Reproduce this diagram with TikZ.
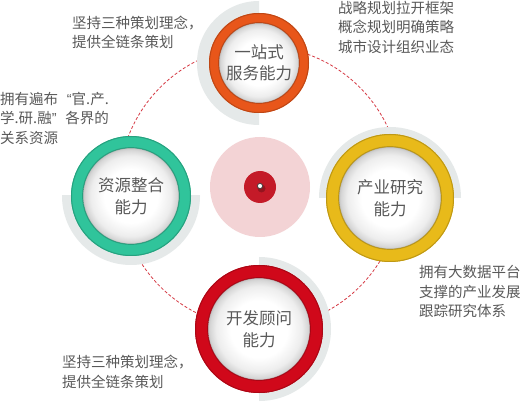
\documentclass[tikz,border=0pt]{standalone}
\usepackage{fontspec}
\newfontfamily\cjk{Noto Sans CJK SC}
\newfontfamily\latinq{Liberation Sans}
\definecolor{txt}{HTML}{595959}
\definecolor{ringorange}{HTML}{E8561A}
\definecolor{ringgreen}{HTML}{30C49B}
\definecolor{ringyellow}{HTML}{E8BA1A}
\definecolor{ringred}{HTML}{D0081A}
\definecolor{shadowgrey}{HTML}{E5E9E9}
\definecolor{dashred}{HTML}{D63A44}
\definecolor{pinkdisk}{HTML}{F3D3D5}
\definecolor{coredisk}{HTML}{C41A28}
\pgfdeclareradialshading{discshade}{\pgfpoint{0bp}{0bp}}{color(0bp)=(white); color(14bp)=(white); color(21bp)=(gray!14); color(24bp)=(gray!32); color(25bp)=(gray!45); color(50bp)=(gray!45)}
\newcommand\skillbadge[9]{%
  \begin{scope}
    \clip #8;
    \fill[shadowgrey] (#2,#3) circle[radius=#6pt];
  \end{scope}
  \fill[#7] (#2,#3) circle[radius=#4pt];
  \draw[#7!82!black, line width=1pt] (#2,#3) circle[radius=#4pt-0.5pt];
  \shade[shading=discshade] (#2,#3) circle[radius=#5pt];
  \draw[#7!65!black, opacity=.55, line width=1.2pt] (#2,#3) circle[radius=#5pt+0.3pt];
  \node[badgetext] (#1) at (#2,#3) {#9};
}
\begin{document}
\begin{tikzpicture}[x=1pt,y=-1pt,
  sidetext/.style={font=\cjk\fontsize{14.5}{19.5}\selectfont, text=txt, align=left, inner sep=0pt, anchor=west},
  badgetext/.style={font=\cjk\fontsize{16.5}{21.5}\selectfont, text=txt, align=center, inner sep=0pt}]
\useasboundingbox (0,0) rectangle (522,403);
\fill[white] (0,0) rectangle (522,403);
% dashed orbit
\draw[dashred, line width=0.8pt, dash pattern=on 3pt off 2pt] (260,187) circle[radius=141pt];
% centre
\fill[pinkdisk] (260,187) circle[radius=50pt];
\fill[coredisk] (260,187) circle[radius=16pt];
\fill[coredisk!60!black, opacity=.6] (261.5,188.5) circle[radius=4pt];
\filldraw[fill=white, draw=black!75, line width=0.8pt] (260,186) circle[radius=2.6pt];
% badges
\skillbadge{top}{259}{63}{50}{40}{62}{ringorange}{(150,0) rectangle (259,140)}{一站式\\服务能力}
\skillbadge{left}{131}{196}{60}{48}{69}{ringgreen}{(40,196) rectangle (220,290)}{资源整合\\能力}
\skillbadge{right}{390}{198}{64}{51}{71}{ringyellow}{(300,110) rectangle (480,198)}{产业研究\\能力}
\skillbadge{bottom}{259}{329}{64}{51}{72}{ringred}{(259,240) rectangle (350,403)}{开发顾问\\能力}
% side texts
\node[sidetext] (t1) at (72,32.2) {坚持三种策划理念，\\提供全链条策划};
\node[sidetext] (t2) at (338,27) {战略规划拉开框架\\概念规划明确策略\\城市设计组织业态};
\node[sidetext] (t3) at (0,118) {拥有遍布\hspace{0.6em}{\latinq “}官.产.\\学.研.融{\latinq ”}\hspace{0.6em}各界的\\关系资源};
\node[sidetext] (t4) at (419,291.7) {拥有大数据平台\\支撑的产业发展\\跟踪研究体系};
\node[sidetext] (t5) at (62,371.7) {坚持三种策划理念，\\提供全链条策划};
\end{tikzpicture}
\end{document}
